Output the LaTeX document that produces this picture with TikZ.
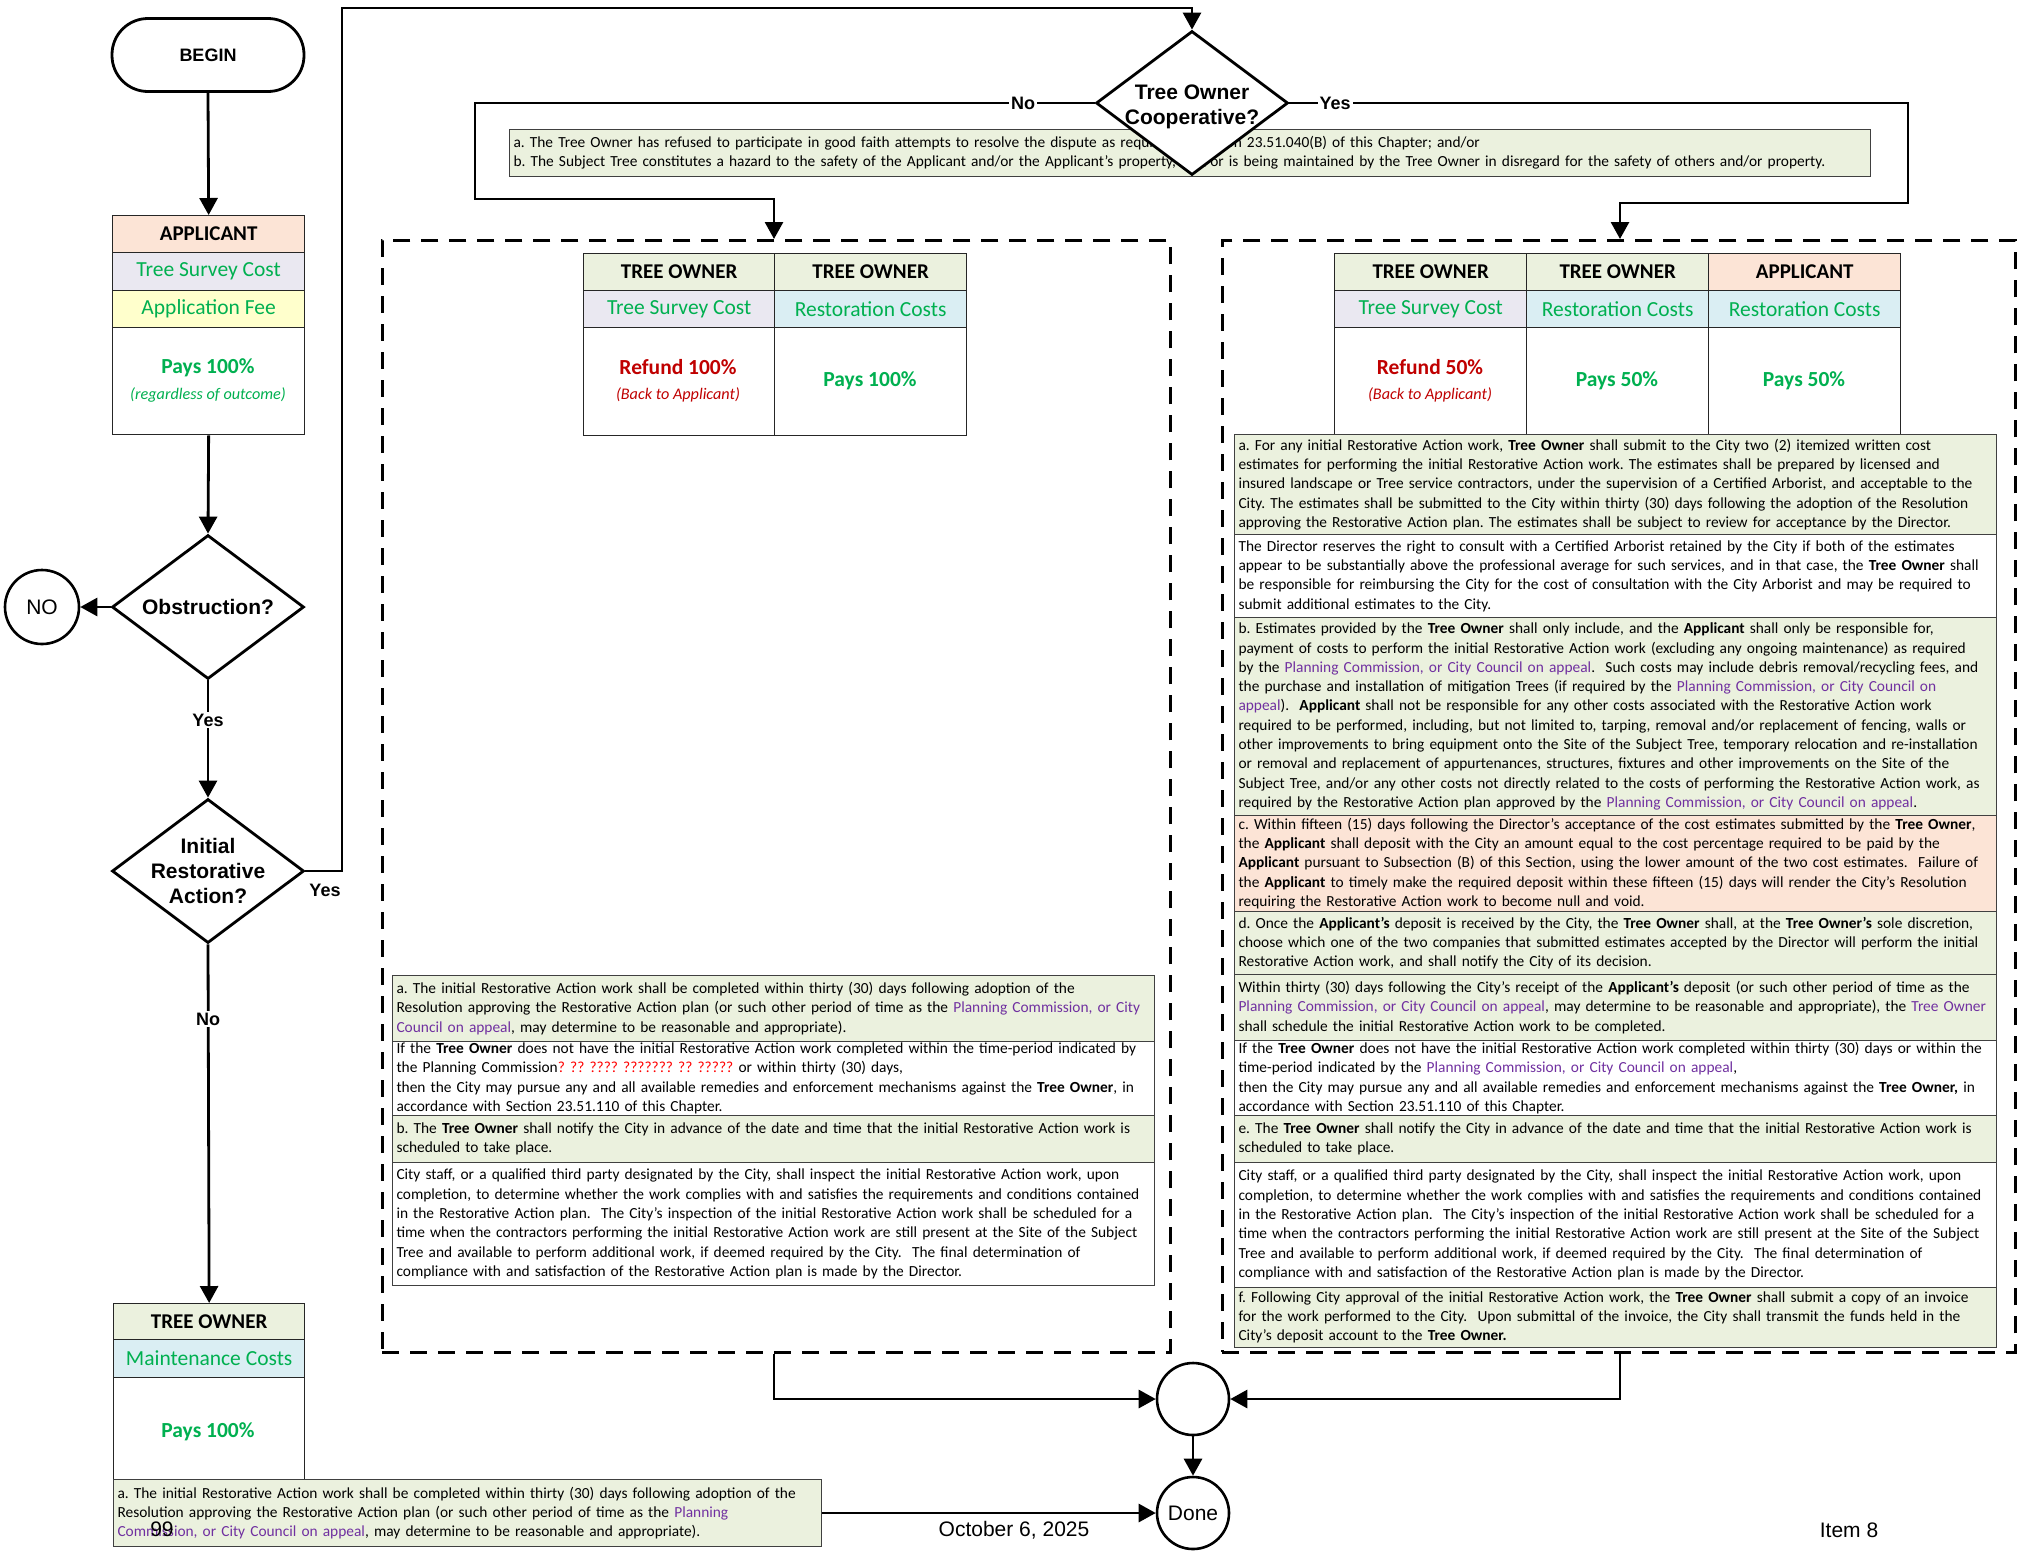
\documentclass[tikz,border=0pt]{standalone}
\usepackage{fontspec}
\setmainfont{Carlito}
\newfontfamily\arialf{Liberation Sans}
\usetikzlibrary{arrows.meta,shapes.geometric}
\definecolor{tgreen}{HTML}{00B050}
\definecolor{tred}{HTML}{C00000}
\definecolor{tpurp}{HTML}{7030A0}
\definecolor{fgreen}{HTML}{EBF1DE}
\definecolor{fpeach}{HTML}{FCE4D6}
\definecolor{flav}{HTML}{EAE8F1}
\definecolor{fyel}{HTML}{FFFFCC}
\definecolor{fblue}{HTML}{DAEEF3}
\frenchspacing
\newcommand{\tbf}{\fontsize{15.4}{19.3}\selectfont\frenchspacing}
\newcommand{\hdrf}{\fontsize{21}{25}\selectfont\bfseries}
\newcommand{\rowf}{\fontsize{21.5}{25}\selectfont\color{tgreen}}
\newcommand{\payf}{\fontsize{21.5}{25}\selectfont\bfseries}
\newcommand{\subf}{\fontsize{16.2}{19}\selectfont\itshape}
\newcommand{\pc}[1]{\textcolor{tpurp}{#1}}
\begin{document}
\begin{tikzpicture}[x=1pt,y=-1pt,
  conn/.style={line width=2.8pt,-{Triangle[length=17pt,width=18pt]}},
  dia/.style={diamond,draw,line width=2.8pt,fill=white,minimum width=192pt,minimum height=144pt,inner sep=0pt,aspect=1.333},
  dtext/.style={font=\arialf\bfseries\fontsize{21}{25}\selectfont,align=center},
  cell/.style={draw=black!85,line width=1.3pt,anchor=north west,inner sep=0pt},
  tblock/.style={draw=black!75,line width=1pt,anchor=north west,inner xsep=4pt,inner ysep=0pt,text width=754pt,align=left,font=\tbf},
  dashbox/.style={draw,line width=2.6pt,dash pattern=on 17pt off 11pt,anchor=north west,inner sep=0pt},
  lbl/.style={font=\arialf\bfseries\fontsize{18}{22}\selectfont,fill=white,inner sep=2pt},
  circ/.style={circle,draw,line width=2.6pt,fill=white,inner sep=0pt,font=\arialf\fontsize{21}{25}\selectfont},
  foot/.style={font=\arialf\fontsize{21}{25}\selectfont}
]
\useasboundingbox[fill=white] (0,0) rectangle (2017,1551);

% ---------- dashed group boxes ----------
\node[dashbox,minimum width=788pt,minimum height=1112pt] (lbox) at (381,239) {};
\node[dashbox,minimum width=793pt,minimum height=1112pt] (rbox) at (1221,239) {};

% ---------- left column ----------
\node[draw,line width=2.8pt,rounded corners=36pt,minimum width=192pt,minimum height=73pt,font=\arialf\bfseries\fontsize{18}{22}\selectfont] (begin) at (208,55) {BEGIN};

\node[cell,fill=fpeach,minimum width=192pt,minimum height=37pt,font=\hdrf] (apphdr) at (112,215) {APPLICANT};
\node[cell,fill=flav,minimum width=192pt,minimum height=38pt,font=\rowf] (appsurv) at (112,252) {Tree Survey Cost};
\node[cell,fill=fyel,minimum width=192pt,minimum height=37pt,font=\rowf] (appfee) at (112,290) {Application Fee};
\node[cell,minimum width=192pt,minimum height=107pt] (appbody) at (112,327) {};
\node[font=\payf,text=tgreen] (apppay) at (208,368) {Pays 100\%};
\node[font=\subf,text=tgreen] (appreg) at (208,395) {(regardless of outcome)};

\node[dia] (obs) at (208,607) {};
\node[dtext] (obst) at (obs.center) {Obstruction?};
\node[circ,minimum size=74pt] (no) at (42,607) {NO};

\node[dia] (init) at (208,871) {};
\node[dtext] (initt) at (init.center) {Initial\\Restorative\\Action?};

\node[cell,fill=fgreen,minimum width=191pt,minimum height=36pt,font=\hdrf] (tohdr) at (113,1303) {TREE OWNER};
\node[cell,fill=fblue,minimum width=191pt,minimum height=38pt,font=\rowf] (tomaint) at (113,1339) {Maintenance Costs};
\node[cell,minimum width=191pt,minimum height=110pt] (tobody) at (113,1377) {};
\node[font=\payf,text=tgreen] (topay) at (208,1432) {Pays 100\%};

\node[tblock,fill=fgreen,text width=700pt,minimum height=67pt] (botbox) at (113,1479) {a. The initial Restorative Action work shall be completed within thirty (30) days following adoption of the\\
Resolution approving the Restorative Action plan (or such other period of time as the \pc{Planning}\\
\pc{Commission, or City Council on appeal}, may determine to be reasonable and appropriate).};

% ---------- top decision ----------
\node[tblock,fill=fgreen,text width=1353pt,minimum height=47pt] (rulebox) at (509,129) {a. The Tree Owner has refused to participate in good faith attempts to resolve the dispute as required in Section 23.51.040(B) of this Chapter; and/or\\
b. The Subject Tree constitutes a hazard to the safety of the Applicant and/or the Applicant’s property, and/or is being maintained by the Tree Owner in disregard for the safety of others and/or property.};
\node[dia] (toc) at (1192,103) {};
\node[dtext] (toct) at ([yshift=-4pt]toc.center) {Tree Owner\\Cooperative?};

% ---------- left (No) group ----------
\node[cell,fill=fgreen,minimum width=191pt,minimum height=37pt,font=\hdrf] (lh1) at (583,253) {TREE OWNER};
\node[cell,fill=fgreen,minimum width=192pt,minimum height=37pt,font=\hdrf] (lh2) at (774,253) {TREE OWNER};
\node[cell,fill=flav,minimum width=191pt,minimum height=37pt,font=\rowf] (lr1) at (583,290) {Tree Survey Cost};
\node[cell,fill=fblue,minimum width=192pt,minimum height=37pt,font=\rowf] (lr2) at (774,290) {Restoration Costs};
\node[cell,minimum width=191pt,minimum height=108pt] (lb1) at (583,327) {};
\node[cell,minimum width=192pt,minimum height=108pt] (lb2) at (774,327) {};
\node[font=\payf,text=tred] (lref) at (678,367) {Refund 100\%};
\node[font=\subf,text=tred] (lback) at (678,395) {(Back to Applicant)};
\node[font=\payf,text=tgreen] (lpay) at (870,381) {Pays 100\%};

\node[tblock,fill=fgreen,minimum height=66pt] (la) at (392,975) {a. The initial Restorative Action work shall be completed within thirty (30) days following adoption of the\\
Resolution approving the Restorative Action plan (or such other period of time as the \pc{Planning Commission, or City}\\
\pc{Council on appeal}, may determine to be reasonable and appropriate).};
\node[tblock,fill=white,minimum height=74pt] (lif) at (392,1041) {If the \textbf{Tree Owner} does not have the initial Restorative Action work completed within the time-period indicated by\\
the Planning Commission\textcolor{red}{? ?? ???? ??????? ?? ?????} or within thirty (30) days,\\
then the City may pursue any and all available remedies and enforcement mechanisms against the \textbf{Tree Owner}, in\\
accordance with Section 23.51.110 of this Chapter.};
\node[tblock,fill=fgreen,minimum height=47pt] (lbb) at (392,1115) {b. The \textbf{Tree Owner} shall notify the City in advance of the date and time that the initial Restorative Action work is\\
scheduled to take place.};
\node[tblock,fill=white,minimum height=123pt] (lcity) at (392,1162) {City staff, or a qualified third party designated by the City, shall inspect the initial Restorative Action work, upon\\
completion, to determine whether the work complies with and satisfies the requirements and conditions contained\\
in the Restorative Action plan.\ \ The City’s inspection of the initial Restorative Action work shall be scheduled for a\\
time when the contractors performing the initial Restorative Action work are still present at the Site of the Subject\\
Tree and available to perform additional work, if deemed required by the City.\ \ The final determination of\\
compliance with and satisfaction of the Restorative Action plan is made by the Director.};

% ---------- right (Yes) group ----------
\node[cell,fill=fgreen,minimum width=192pt,minimum height=37pt,font=\hdrf] (rh1) at (1334,253) {TREE OWNER};
\node[cell,fill=fgreen,minimum width=182pt,minimum height=37pt,font=\hdrf] (rh2) at (1526,253) {TREE OWNER};
\node[cell,fill=fpeach,minimum width=192pt,minimum height=37pt,font=\hdrf] (rh3) at (1708,253) {APPLICANT};
\node[cell,fill=flav,minimum width=192pt,minimum height=37pt,font=\rowf] (rr1) at (1334,290) {Tree Survey Cost};
\node[cell,fill=fblue,minimum width=182pt,minimum height=37pt,font=\rowf] (rr2) at (1526,290) {Restoration Costs};
\node[cell,fill=fblue,minimum width=192pt,minimum height=37pt,font=\rowf] (rr3) at (1708,290) {Restoration Costs};
\node[cell,minimum width=192pt,minimum height=108pt] (rb1) at (1334,327) {};
\node[cell,minimum width=182pt,minimum height=108pt] (rb2) at (1526,327) {};
\node[cell,minimum width=192pt,minimum height=108pt] (rb3) at (1708,327) {};
\node[font=\payf,text=tred] (rref) at (1430,367) {Refund 50\%};
\node[font=\subf,text=tred] (rback) at (1430,395) {(Back to Applicant)};
\node[font=\payf,text=tgreen] (rpay1) at (1617,381) {Pays 50\%};
\node[font=\payf,text=tgreen] (rpay2) at (1804,381) {Pays 50\%};

\node[tblock,fill=fgreen,minimum height=100pt] (ra) at (1234,434) {a. For any initial Restorative Action work, \textbf{Tree Owner} shall submit to the City two (2) itemized written cost\\
estimates for performing the initial Restorative Action work. The estimates shall be prepared by licensed and\\
insured landscape or Tree service contractors, under the supervision of a Certified Arborist, and acceptable to the\\
City. The estimates shall be submitted to the City within thirty (30) days following the adoption of the Resolution\\
approving the Restorative Action plan. The estimates shall be subject to review for acceptance by the Director.};
\node[tblock,fill=white,minimum height=83pt] (rdir) at (1234,534) {The Director reserves the right to consult with a Certified Arborist retained by the City if both of the estimates\\
appear to be substantially above the professional average for such services, and in that case, the \textbf{Tree Owner} shall\\
be responsible for reimbursing the City for the cost of consultation with the City Arborist and may be required to\\
submit additional estimates to the City.};
\node[tblock,fill=fgreen,minimum height=198pt] (rbb) at (1234,617) {b. Estimates provided by the \textbf{Tree Owner} shall only include, and the \textbf{Applicant} shall only be responsible for,\\
payment of costs to perform the initial Restorative Action work (excluding any ongoing maintenance) as required\\
by the \pc{Planning Commission, or City Council on appeal}.\ \ Such costs may include debris removal/recycling fees, and\\
the purchase and installation of mitigation Trees (if required by the \pc{Planning Commission, or City Council on}\\
\pc{appeal}).\ \ \textbf{Applicant} shall not be responsible for any other costs associated with the Restorative Action work\\
required to be performed, including, but not limited to, tarping, removal and/or replacement of fencing, walls or\\
other improvements to bring equipment onto the Site of the Subject Tree, temporary relocation and re-installation\\
or removal and replacement of appurtenances, structures, fixtures and other improvements on the Site of the\\
Subject Tree, and/or any other costs not directly related to the costs of performing the Restorative Action work, as\\
required by the Restorative Action plan approved by the \pc{Planning Commission, or City Council on appeal}.};
\node[tblock,fill=fpeach,minimum height=96pt] (rc) at (1234,815) {c. Within fifteen (15) days following the Director’s acceptance of the cost estimates submitted by the \textbf{Tree Owner},\\
the \textbf{Applicant} shall deposit with the City an amount equal to the cost percentage required to be paid by the\\
\textbf{Applicant} pursuant to Subsection (B) of this Section, using the lower amount of the two cost estimates.\ \ Failure of\\
the \textbf{Applicant} to timely make the required deposit within these fifteen (15) days will render the City’s Resolution\\
requiring the Restorative Action work to become null and void.};
\node[tblock,fill=fgreen,minimum height=63pt] (rd) at (1234,911) {d. Once the \textbf{Applicant’s} deposit is received by the City, the \textbf{Tree Owner} shall, at the \textbf{Tree Owner’s} sole discretion,\\
choose which one of the two companies that submitted estimates accepted by the Director will perform the initial\\
Restorative Action work, and shall notify the City of its decision.};
\node[tblock,fill=fgreen,minimum height=66pt] (rwith) at (1234,974) {Within thirty (30) days following the City’s receipt of the \textbf{Applicant's} deposit (or such other period of time as the\\
\pc{Planning Commission, or City Council on appeal}, may determine to be reasonable and appropriate), the \pc{Tree Owner}\\
shall schedule the initial Restorative Action work to be completed.};
\node[tblock,fill=white,minimum height=75pt] (rif) at (1234,1040) {If the \textbf{Tree Owner} does not have the initial Restorative Action work completed within thirty (30) days or within the\\
time-period indicated by the \pc{Planning Commission, or City Council on appeal},\\
then the City may pursue any and all available remedies and enforcement mechanisms against the \textbf{Tree Owner,} in\\
accordance with Section 23.51.110 of this Chapter.};
\node[tblock,fill=fgreen,minimum height=47pt] (re) at (1234,1115) {e. The \textbf{Tree Owner} shall notify the City in advance of the date and time that the initial Restorative Action work is\\
scheduled to take place.};
\node[tblock,fill=white,minimum height=125pt] (rcity) at (1234,1162) {City staff, or a qualified third party designated by the City, shall inspect the initial Restorative Action work, upon\\
completion, to determine whether the work complies with and satisfies the requirements and conditions contained\\
in the Restorative Action plan.\ \ The City’s inspection of the initial Restorative Action work shall be scheduled for a\\
time when the contractors performing the initial Restorative Action work are still present at the Site of the Subject\\
Tree and available to perform additional work, if deemed required by the City.\ \ The final determination of\\
compliance with and satisfaction of the Restorative Action plan is made by the Director.};
\node[tblock,fill=fgreen,minimum height=60pt] (rf) at (1234,1287) {f. Following City approval of the initial Restorative Action work, the \textbf{Tree Owner} shall submit a copy of an invoice\\
for the work performed to the City.\ \ Upon submittal of the invoice, the City shall transmit the funds held in the\\
City’s deposit account to the \textbf{Tree Owner.}};

% ---------- end circles ----------
\node[circ,minimum size=72pt] (mid) at (1193,1399) {};
\node[circ,minimum size=72pt] (done) at (1193,1513) {Done};

% ---------- connectors ----------
\draw[conn] (begin.south) -- (apphdr.north);
\draw[conn] (appbody.south) -- (obs.north);
\draw[conn] (obs.west) -- (no.east);
\draw[conn] (obs.south) -- (init.north);
\draw[conn] (init.south) -- (tohdr.north);
\draw[conn] (init.east) -- (342,871) -- (342,8) -- (1192,8) -- (toc.north);
\draw[conn] (toc.west) -- (475,103) -- (475,199) -- (774,199) -- (774,199 |- lbox.north);
\draw[conn] (toc.east) -- (1908,103) -- (1908,203) -- (1620,203) -- (1620,203 |- rbox.north);
\draw[conn] (lbox.south -| 774,0) -- (774,1399) -- (mid.west);
\draw[conn] (rbox.south -| 1620,0) -- (1620,1399) -- (mid.east);
\draw[conn] (mid.south) -- (done.north);
\draw[conn] (botbox.east |- done.west) -- (done.west);

% ---------- connector labels ----------
\node[lbl] (yes1) at (208,720) {Yes};
\node[lbl] (no1) at (208,1019) {No};
\node[lbl,fill=none] (yes2) at (325,890) {Yes};
\node[lbl] (no2) at (1023,103) {No};
\node[lbl] (yes3) at (1335,103) {Yes};

% ---------- footer ----------
\node[foot] (pg) at (162,1529) {99};
\node[foot] (date) at (1014,1530) {October 6, 2025};
\node[foot] (item) at (1849,1530) {Item 8};
\end{tikzpicture}
\end{document}
